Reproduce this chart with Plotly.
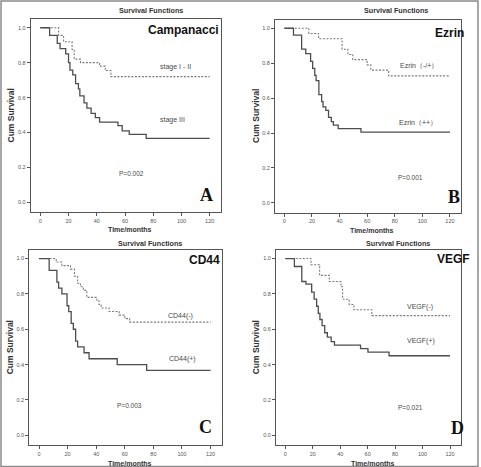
import plotly.graph_objects as go

W, H = 481, 467

# ---------------- data ----------------
# Panel A : Campanacci
a_low_t = [0, 13, 16.5, 22.5, 24, 28.5, 42, 46, 50, 120]
a_low_s = [1.0, 0.956, 0.92, 0.875, 0.82, 0.80, 0.78, 0.755, 0.72, 0.72]
a_high_t = [0, 6.6, 12, 14, 18, 20, 21, 23, 25, 27, 28, 31, 33, 36, 39, 42, 55, 58, 63, 75, 120]
a_high_s = [1.0, 0.956, 0.91, 0.88, 0.85, 0.80, 0.757, 0.73, 0.68, 0.65, 0.61, 0.57, 0.54, 0.51,
            0.485, 0.46, 0.44, 0.41, 0.39, 0.367, 0.367]
# Panel B : Ezrin
b_neg_t = [0, 17.7, 24.8, 41.8, 46, 49.6, 60, 62.6, 75.6, 120]
b_neg_s = [1.0, 0.97, 0.94, 0.88, 0.85, 0.82, 0.79, 0.76, 0.727, 0.727]
b_pos_t = [0, 6.6, 12.5, 15.5, 19, 20.5, 22, 23, 25, 27, 28, 30, 32, 34, 35.5, 39, 55.5, 120]
b_pos_s = [1.0, 0.96, 0.88, 0.855, 0.81, 0.77, 0.73, 0.70, 0.62, 0.58, 0.55, 0.53, 0.49, 0.465,
           0.445, 0.425, 0.405, 0.405]
# Panel C : CD44
c_neg_t = [0, 12, 16, 22, 24.8, 27, 29, 31, 33.4, 40.5, 42, 43.5, 49, 56, 60, 63.4, 120]
c_neg_s = [1.0, 0.98, 0.96, 0.94, 0.90, 0.86, 0.84, 0.82, 0.78, 0.76, 0.74, 0.72, 0.70, 0.68,
           0.66, 0.64, 0.64]
c_pos_t = [0, 7.1, 12.5, 13.7, 16, 19.6, 20.8, 22.5, 24, 25.6, 27, 31.5, 35, 54.7, 75.3, 120]
c_pos_s = [1.0, 0.933, 0.867, 0.833, 0.80, 0.733, 0.70, 0.633, 0.60, 0.533, 0.50, 0.467, 0.433,
           0.40, 0.367, 0.367]
# Panel D : VEGF
d_neg_t = [0, 18.7, 25, 32, 40.5, 41.7, 46.5, 50, 63, 120]
d_neg_s = [1.0, 0.965, 0.905, 0.87, 0.84, 0.77, 0.74, 0.71, 0.677, 0.677]
d_pos_t = [0, 6.6, 12, 15, 19.2, 21, 22.8, 24, 25.2, 26.8, 28.7, 30.6, 33.4, 35.8, 54.8, 60.2, 75.6, 120]
d_pos_s = [1.0, 0.955, 0.87, 0.855, 0.81, 0.77, 0.73, 0.69, 0.655, 0.62, 0.58, 0.555, 0.53, 0.51,
           0.49, 0.47, 0.45, 0.45]

x_ticks = [0, 20, 40, 60, 80, 100, 120]
y_ticks = [0.0, 0.2, 0.4, 0.6, 0.8, 1.0]
y_tick_text = ["0.0", "0.2", "0.4", "0.6", "0.8", "1.0"]

panels = [
    dict(name="Campanacci", letter="A", p="P=0.002",
         dashed=(a_low_t, a_low_s), solid=(a_high_t, a_high_s),
         lab_d="stage I - II", lab_s="stage III"),
    dict(name="Ezrin", letter="B", p="P=0.001",
         dashed=(b_neg_t, b_neg_s), solid=(b_pos_t, b_pos_s),
         lab_d="Ezrin（-/+）", lab_s="Ezrin（++）"),
    dict(name="CD44", letter="C", p="P=0.003",
         dashed=(c_neg_t, c_neg_s), solid=(c_pos_t, c_pos_s),
         lab_d="CD44(-)", lab_s="CD44(+)"),
    dict(name="VEGF", letter="D", p="P=0.021",
         dashed=(d_neg_t, d_neg_s), solid=(d_pos_t, d_pos_s),
         lab_d="VEGF(-)", lab_s="VEGF(+)"),
]

# ---------------- layout geometry (pixels) ----------------
boxes = [  # left, right, top, bottom
    (30.7, 221, 19, 212),
    (275, 461, 19.5, 212.5),
    (29.3, 222, 249.7, 445),
    (276, 461, 249.7, 445),
]
text_pos = [
    dict(name=(183, 30), ld=(175, 67), ls=(172, 120), p=(131, 173), let=(206, 195),
         title=(151, 11), ylab=11, xlab=230),
    dict(name=(449, 33), ld=(419, 66), ls=(418, 123), p=(410, 177), let=(454, 197),
         title=(396, 11), ylab=256, xlab=231),
    dict(name=(204, 260), ld=(180, 316), ls=(182, 359), p=(129, 405), let=(205, 427),
         title=(150, 243), ylab=10, xlab=463),
    dict(name=(453, 259), ld=(420, 307), ls=(421, 341), p=(410, 407), let=(457, 428),
         title=(398, 244), ylab=256, xlab=463),
]


def px(x, y):
    return x / W, 1 - y / H


fig = go.Figure()
annotations = []
TXT = "#4a4a4a"

for i, (pn, box, tp) in enumerate(zip(panels, boxes, text_pos)):
    k = "" if i == 0 else str(i + 1)
    xa, ya = "x" + k, "y" + k
    fig.add_trace(go.Scatter(x=pn["dashed"][0], y=pn["dashed"][1], mode="lines",
                             line=dict(shape="hv", color="#7a7a7a", width=1.1, dash="2px,1.5px"),
                             xaxis=xa, yaxis=ya, showlegend=False, hoverinfo="skip"))
    fig.add_trace(go.Scatter(x=pn["solid"][0], y=pn["solid"][1], mode="lines",
                             line=dict(shape="hv", color="#4d4d4d", width=1.3),
                             xaxis=xa, yaxis=ya, showlegend=False, hoverinfo="skip"))
    l, r, t, b = box
    axcommon = dict(showline=True, linecolor="#555555", linewidth=1, mirror=True,
                    showgrid=False, zeroline=False, ticks="outside", ticklen=3,
                    tickcolor="#555555", tickfont=dict(family="Liberation Sans", size=5.5,
                                                       color="#555555"))
    fig.layout["xaxis" + k] = dict(domain=[l / W, r / W], range=[-6.8, 128],
                                   tickvals=x_ticks, anchor=ya, **axcommon)
    fig.layout["yaxis" + k] = dict(domain=[1 - b / H, 1 - t / H], range=[-0.055, 1.05],
                                   tickvals=y_ticks, ticktext=y_tick_text, anchor=xa, **axcommon)

    def ann(text, pos, size, color=TXT, family="Liberation Sans", bold=False, angle=0):
        x, y = px(*pos)
        annotations.append(dict(text=("<b>%s</b>" % text) if bold else text, x=x, y=y,
                                xref="paper", yref="paper", showarrow=False,
                                xanchor="center", yanchor="middle", textangle=angle,
                                font=dict(family=family, size=size, color=color)))

    ann(pn["name"], tp["name"], 12, color="#111111", bold=True)
    ann(pn["lab_d"], tp["ld"], 7)
    ann(pn["lab_s"], tp["ls"], 7)
    ann(pn["p"], tp["p"], 6.5)
    ann(pn["letter"], tp["let"], 18, color="#111111", family="Liberation Serif", bold=True)
    ann("Survival Functions", tp["title"], 7.2, color="#333333", bold=True)
    ann("Cum Survival", (tp["ylab"], (t + b) / 2), 8.5, color="#333333", bold=True, angle=-90)
    ann("Time/months", ((l + r) / 2 + 4, tp["xlab"]), 7, color="#333333", bold=True)

fig.update_layout(
    width=W, height=H, margin=dict(l=0, r=0, t=0, b=0),
    paper_bgcolor="white", plot_bgcolor="white",
    annotations=annotations,
    shapes=[dict(type="rect", xref="paper", yref="paper",
                 x0=1 / W, x1=478 / W, y0=0.001, y1=1 - 1 / H,
                 line=dict(color="#8a8a8a", width=1.5))],
)

fig.write_html("out.html")
